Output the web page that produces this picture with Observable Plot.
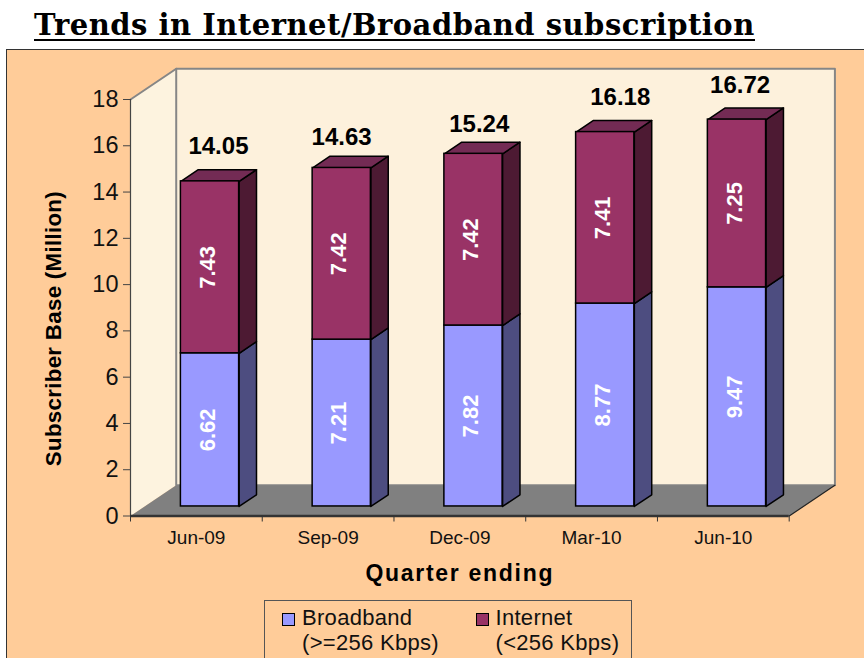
<!DOCTYPE html>
<html><head><meta charset="utf-8">
<script src="https://cdn.jsdelivr.net/npm/d3@7"></script>
<script src="https://cdn.jsdelivr.net/npm/@observablehq/plot@0.6"></script>
<style>
html,body{margin:0;padding:0;background:#fff;width:864px;height:658px;overflow:hidden}
#title{position:absolute;left:34px;top:12px;font:bold 29px "DejaVu Serif",serif;letter-spacing:.5px;color:#000;border-bottom:2.5px solid #000;line-height:27px;white-space:nowrap}
#panel{position:absolute;left:6px;top:49px;width:900px;height:700px;background:#FFCC99;border:1.5px solid #333}
#chart{position:absolute;left:0;top:1px}
#legend{position:absolute;left:256.5px;top:550px;width:366px;height:70px;border:1.5px solid #555;font:22px "Liberation Sans",Arial,sans-serif;letter-spacing:.3px;color:#111;line-height:25px}
#legend div{position:absolute;top:4px;white-space:nowrap}
#legend i{position:absolute;left:-20px;top:8px;width:11px;height:11px;border:1.2px solid #000}
.qe text{letter-spacing:1.7px}
.sb text{letter-spacing:.3px}
</style></head><body>
<div id="title">Trends in Internet/Broadband subscription</div>
<div id="panel"><div id="chart"></div><div id="legend"></div></div>
<script>
const quarters = ["Jun-09","Sep-09","Dec-09","Mar-10","Jun-10"];
const broadband = [6.62,7.21,7.82,8.77,9.47];
const internet = [7.43,7.42,7.42,7.41,7.25];
const totals = [14.05,14.63,15.24,16.18,16.72];
const yTicks = [0,2,4,6,8,10,12,14,16,18];
const colors = {broadband:"#9999FF", internet:"#993366", broadbandSide:"#4D4D80", internetSide:"#4D1A33", top:"#732B54"};

// oblique projection: depth 0 is the axis plane, depth 1 the back wall
const DX = 0.347, DY = 1.33;
const X = (i,d) => i + d*DX, Y = (v,d) => v + d*DY;
const poly = (id,pts) => pts.concat([pts[0]]).map(([i,v,d]) => ({id, x:X(i,d), y:Y(v,d)}));
const D0 = 0.31, D1 = 0.69, L = 0.275, R = 0.717;

const rects = [], sideB = [], sideI = [], tops = [];
quarters.forEach((q,k) => {
  const a = broadband[k], t = totals[k];
  rects.push({x1:X(k+L,D0),x2:X(k+R,D0),y1:Y(0,D0),y2:Y(a,D0),fill:colors.broadband});
  rects.push({x1:X(k+L,D0),x2:X(k+R,D0),y1:Y(a,D0),y2:Y(t,D0),fill:colors.internet});
  sideB.push(...poly("b"+k,[[k+R,0,D0],[k+R,0,D1],[k+R,a,D1],[k+R,a,D0]]));
  sideI.push(...poly("i"+k,[[k+R,a,D0],[k+R,a,D1],[k+R,t,D1],[k+R,t,D0]]));
  tops.push(...poly("t"+k,[[k+L,t,D0],[k+R,t,D0],[k+R,t,D1],[k+L,t,D1]]));
});
const labelsB = quarters.map((q,k)=>({x:X(k+.5,D0),y:Y(broadband[k]/2,D0),t:broadband[k].toFixed(2)}));
const labelsI = quarters.map((q,k)=>({x:X(k+.5,D0),y:Y(broadband[k]+internet[k]/2,D0),t:internet[k].toFixed(2)}));
const totalNudgeX = [-.01,-.075,-.03,.04,-.05];
const totalNudgeY = [.04,-.13,-.17,.04,.04];
const labelsT = quarters.map((q,k)=>({x:X(k+.5,D0)+.07+totalNudgeX[k],y:Y(totals[k],D1)+totalNudgeY[k],t:totals[k].toFixed(2)}));

const font = '"Liberation Sans",Arial,sans-serif';
const plot = Plot.plot({
  width:858, height:549,
  marginLeft:123, marginRight:76.3, marginTop:48, marginBottom:84.5,
  style:{background:"transparent",fontFamily:font,overflow:"visible"},
  x:{domain:[0,5],axis:null},
  y:{domain:[0,18],axis:null},
  marks:[
    Plot.line(poly("side",[[0,0,0],[0,0,1],[0,18,1],[0,18,0]]),{x:"x",y:"y",z:"id",fill:"#FDF3DF",stroke:"none"}),
    Plot.line(poly("back",[[0,0,1],[5,0,1],[5,18,1],[0,18,1]]),{x:"x",y:"y",z:"id",fill:"#FDF1DC",stroke:"#868686",strokeWidth:2}),
    Plot.line(poly("sideTop",[[0,18,0],[0,18,1]]),{x:"x",y:"y",z:"id",stroke:"#868686",strokeWidth:2}),
    Plot.line(poly("floor",[[0,0,0],[5,0,0],[5,0,1],[0,0,1]]),{x:"x",y:"y",z:"id",fill:"#808080",stroke:"none"}),
    Plot.line(poly("floorEdge",[[5,0,0],[5,0,1]]),{x:"x",y:"y",z:"id",stroke:"#222",strokeWidth:1.2}),
    Plot.line(sideB,{x:"x",y:"y",z:"id",fill:colors.broadbandSide,stroke:"#000",strokeWidth:1.5}),
    Plot.line(sideI,{x:"x",y:"y",z:"id",fill:colors.internetSide,stroke:"#000",strokeWidth:1.5}),
    Plot.line(tops,{x:"x",y:"y",z:"id",fill:colors.top,stroke:"#000",strokeWidth:1.5}),
    Plot.rect(rects,{x1:"x1",x2:"x2",y1:"y1",y2:"y2",fill:"fill",stroke:"#000",strokeWidth:1.5}),
    Plot.ruleX([0],{y1:0,y2:18,stroke:"#444",strokeWidth:1.2}),
    Plot.ruleY([0],{x1:0,x2:5,stroke:"#333",strokeWidth:2.5}),
    Plot.axisY({ticks:yTicks,tickSize:7,tickPadding:5,fontSize:23.5,label:null,stroke:"#444",color:"#111"}),
    Plot.axisX({anchor:"bottom",ticks:[0,1,2,3,4,5],tickSize:6,tickFormat:()=>"",label:null,stroke:"#333"}),
    Plot.axisX({anchor:"bottom",ticks:[.5,1.5,2.5,3.5,4.5],tickSize:0,tickPadding:14,tickFormat:d=>quarters[d-.5],label:null,fontSize:19,color:"#111"}),
    Plot.text(labelsB,{x:"x",y:"y",text:"t",rotate:-90,fill:"#fff",fontWeight:"bold",fontSize:22,dx:-3}),
    Plot.text(labelsI,{x:"x",y:"y",text:"t",rotate:-90,fill:"#fff",fontWeight:"bold",fontSize:22,dx:-3}),
    Plot.text(labelsT,{x:"x",y:"y",text:"t",fontWeight:"bold",fontSize:24,fill:"#000",dy:-22}),
    Plot.text(["Subscriber Base (Million)"],{x:0,y:8.1,rotate:-90,dx:-77,fontWeight:"bold",fontSize:22.3,fill:"#000",className:"sb"}),
    Plot.text(["Quarter ending"],{x:2.5,y:0,dy:58,fontWeight:"bold",fontSize:23,fill:"#000",className:"qe"})
  ]
});
document.getElementById("chart").append(plot);

const legendItems = [
  {name:"Broadband",sub:"(>=256 Kbps)",color:colors.broadband,left:37.5},
  {name:"Internet",sub:"(<256 Kbps)",color:colors.internet,left:231}
];
const lg = document.getElementById("legend");
legendItems.forEach(it=>{
  const d = document.createElement("div");
  d.style.left = it.left+"px";
  d.innerHTML = `<i style="background:${it.color}"></i>${it.name}<br>${it.sub.replace(/</g,"&lt;").replace(/>/g,"&gt;")}`;
  lg.append(d);
});
</script></body></html>
